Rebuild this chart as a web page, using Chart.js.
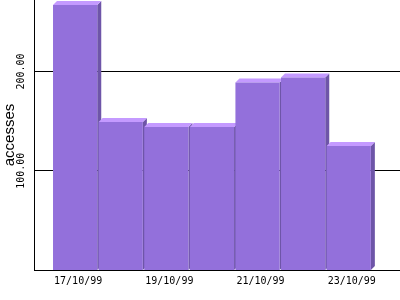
<!DOCTYPE html>
<html>
<head>
<meta charset="utf-8">
<script src="https://cdn.jsdelivr.net/npm/chart.js@4/dist/chart.umd.min.js"></script>
<style>
html, body { margin: 0; padding: 0; background: #fff; }
</style>
</head>
<body>
<canvas id="accessChart" width="400" height="300"></canvas>
<script>
const days = ['17/10/99', '18/10/99', '19/10/99', '20/10/99', '21/10/99', '22/10/99', '23/10/99'];
const accesses = [267, 149, 144, 144, 189, 194, 125];
const yTicks = [100, 200];
const labelledDays = [0, 2, 4, 6];

const depth = 4;
const frontColor = '#9370db';
const topColor = '#c49aff';
const sideColor = '#6e55a8';
const monoFont = { family: "'DejaVu Sans Mono', 'Liberation Mono', monospace", size: 10 };

// fake 3d: side and top faces go under the fronts, so the next bar hides the side
const bar3d = {
    id: 'bar3d',
    beforeDatasetsDraw(chart) {
        const ctx = chart.ctx;
        chart.getDatasetMeta(0).data.forEach(bar => {
            const { x, y, base, width } = bar.getProps(['x', 'y', 'base', 'width'], true);
            const l = x - width / 2;
            const r = x + width / 2;
            ctx.save();
            ctx.fillStyle = sideColor;
            ctx.beginPath();
            ctx.moveTo(r, y);
            ctx.lineTo(r + depth, y - depth);
            ctx.lineTo(r + depth, base - depth);
            ctx.lineTo(r, base);
            ctx.closePath();
            ctx.fill();
            ctx.fillStyle = topColor;
            ctx.beginPath();
            ctx.moveTo(l, y);
            ctx.lineTo(l + depth, y - depth);
            ctx.lineTo(r + depth, y - depth);
            ctx.lineTo(r, y);
            ctx.closePath();
            ctx.fill();
            ctx.restore();
        });
    }
};

const ctx = document.getElementById('accessChart').getContext('2d');

new Chart(ctx, {
    type: 'bar',
    data: {
        datasets: [{
            label: 'accesses',
            data: accesses.map((v, i) => ({ x: i, y: v })),
            backgroundColor: frontColor,
            borderWidth: 0,
            barPercentage: 0.97,
            categoryPercentage: 1
        }]
    },
    options: {
        responsive: false,
        animation: false,
        layout: { padding: 0 },
        plugins: {
            legend: { display: false },
            tooltip: { enabled: false }
        },
        scales: {
            x: {
                type: 'linear',
                offset: false,
                min: -0.902,
                max: 7.124,
                afterBuildTicks(s) { s.ticks = labelledDays.map(i => ({ value: i })); },
                afterFit(s) { s.height = 30; s.paddingLeft = 0; s.paddingRight = 0; },
                border: { color: '#000', width: 1 },
                grid: { display: false, drawTicks: false, offset: false },
                ticks: {
                    autoSkip: false,
                    maxRotation: 0,
                    padding: 5,
                    labelOffset: 3,
                    color: '#000',
                    font: monoFont,
                    callback: v => days[Math.round(v)]
                }
            },
            y: {
                min: 0,
                max: 272,
                afterBuildTicks(s) { s.ticks = yTicks.map(v => ({ value: v })); },
                afterFit(s) { s.width = 34; s.paddingTop = 0; s.paddingBottom = 0; },
                border: { color: '#000', width: 1 },
                grid: { color: '#000', lineWidth: 1, drawTicks: false },
                ticks: {
                    minRotation: 90,
                    maxRotation: 90,
                    crossAlign: 'center',
                    padding: -5,
                    color: '#000',
                    font: monoFont,
                    callback: v => v.toFixed(2)
                },
                title: {
                    display: true,
                    text: 'accesses',
                    color: '#000',
                    padding: { top: 1, bottom: 0 },
                    font: { family: "'Liberation Sans', Arial, sans-serif", size: 15 }
                }
            }
        }
    },
    plugins: [bar3d]
});
</script>
</body>
</html>
